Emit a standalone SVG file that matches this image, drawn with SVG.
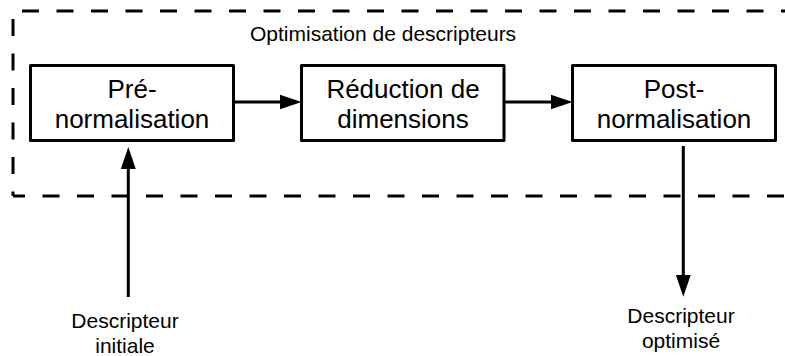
<svg xmlns="http://www.w3.org/2000/svg" width="785" height="356" viewBox="0 0 785 356">
<style>
text{font-family:"Liberation Sans",Arial,Helvetica,sans-serif;fill:#000}
.box{fill:#fff;stroke:#000;stroke-width:3;stroke-linejoin:round}
.lbl{font-size:26px;text-anchor:middle}
.io{font-size:21px;text-anchor:middle}
.dash{fill:none;stroke:#000;stroke-width:3;stroke-dasharray:17 17.5}
.conn{fill:none;stroke:#000;stroke-width:3}
</style>
<defs>
<marker id="ah" markerUnits="userSpaceOnUse" markerWidth="22" markerHeight="16" refX="2" refY="7.5" orient="auto" viewBox="0 0 22 15">
<path d="M0,0 L22,7.5 L0,15 z" fill="#000"/>
</marker>
</defs>
<rect width="785" height="356" fill="#fff"/>
<g id="group-optimisation">
<path class="dash" d="M13,11 V196" stroke-dashoffset="26.5"/>
<path class="dash" d="M13,11 H800" stroke-dashoffset="25.5"/>
<path class="dash" d="M13,196 H800" stroke-dashoffset="5"/>
<text x="250" y="41" style="font-size:21px">Optimisation de descripteurs</text>
</g>
<g id="node-pre">
<rect class="box" x="30.5" y="65.5" width="203" height="75"/>
<text class="lbl" x="132" y="98">Pré-</text>
<text class="lbl" x="132" y="128">normalisation</text>
</g>
<g id="node-reduction">
<rect class="box" x="301.5" y="65.5" width="202.5" height="75"/>
<text class="lbl" x="403" y="98">Réduction de</text>
<text class="lbl" x="403" y="128">dimensions</text>
</g>
<g id="node-post">
<rect class="box" x="572.5" y="65.5" width="203" height="75"/>
<text class="lbl" x="674" y="98">Post-</text>
<text class="lbl" x="674" y="128">normalisation</text>
</g>
<g id="node-input">
<text class="io" x="125" y="328">Descripteur</text>
<text class="io" x="125" y="353">initiale</text>
</g>
<g id="node-output">
<text class="io" x="681" y="323">Descripteur</text>
<text class="io" x="681" y="348">optimisé</text>
</g>
<g id="connectors">
<path class="conn" d="M233.5,102 H281.5" marker-end="url(#ah)"/>
<path class="conn" d="M504,102 H552.5" marker-end="url(#ah)"/>
<path class="conn" d="M128.3,297 V167" marker-end="url(#ah)"/>
<path class="conn" d="M683.3,146 V276.7" marker-end="url(#ah)"/>
</g>
</svg>
